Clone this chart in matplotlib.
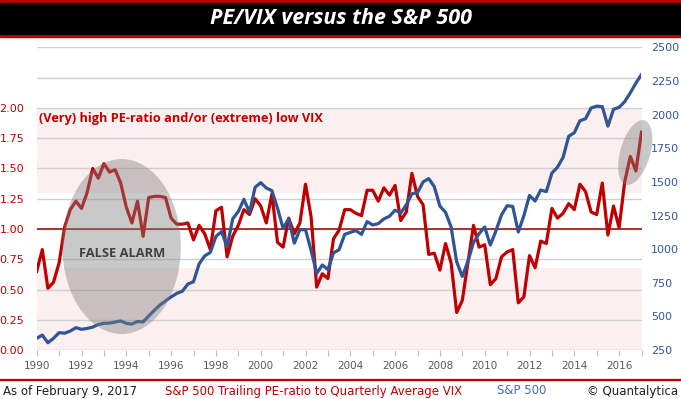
import numpy as np
import matplotlib
matplotlib.use("Agg")
import matplotlib.pyplot as plt
from matplotlib.patches import Ellipse, Rectangle
import matplotlib.transforms as mtransforms

# ---------------- data ----------------
start_year = 1990
pe_vix = [0.65, 0.83, 0.51, 0.56, 0.72, 1.02, 1.16, 1.23, 1.17, 1.30,
          1.50, 1.42, 1.54, 1.47, 1.49, 1.38, 1.18, 1.05, 1.23, 0.94,
          1.26, 1.27, 1.27, 1.26, 1.09, 1.04, 1.04, 1.05, 0.91, 1.03,
          0.96, 0.83, 1.15, 1.18, 0.77, 0.94, 1.03, 1.16, 1.12, 1.25,
          1.19, 1.05, 1.29, 0.89, 0.85, 1.09, 0.96, 1.05, 1.37, 1.10,
          0.52, 0.63, 0.59, 0.92, 0.99, 1.16, 1.16, 1.13, 1.11, 1.32,
          1.32, 1.23, 1.34, 1.28, 1.36, 1.07, 1.14, 1.46, 1.27, 1.20,
          0.79, 0.80, 0.66, 0.88, 0.72, 0.31, 0.41, 0.72, 1.03, 0.85,
          0.87, 0.54, 0.59, 0.77, 0.81, 0.83, 0.39, 0.44, 0.78, 0.68,
          0.90, 0.88, 1.17, 1.09, 1.13, 1.21, 1.16, 1.37, 1.31, 1.14,
          1.12, 1.38, 0.95, 1.19, 1.01, 1.39, 1.60, 1.48, 1.80]
sp500 = [337, 361, 304, 337, 379, 375, 391, 416, 404, 410,
         420, 440, 448, 450, 458, 466, 448, 443, 462, 459,
         503, 545, 584, 615, 645, 671, 687, 741, 758, 890,
         950, 975, 1095, 1130, 1018, 1225, 1280, 1371, 1275, 1460,
         1495, 1455, 1435, 1305, 1155, 1225, 1044, 1145, 1145, 990,
         820, 882, 848, 972, 996, 1110, 1125, 1138, 1110, 1205,
         1180, 1190, 1225, 1245, 1290, 1268, 1330, 1412, 1420, 1500,
         1525, 1465, 1320, 1275, 1165, 905, 797, 910, 1050, 1115,
         1165, 1031, 1135, 1255, 1323, 1318, 1128, 1250, 1400, 1358,
         1440, 1428, 1566, 1610, 1683, 1840, 1866, 1955, 1970, 2050,
         2064, 2060, 1915, 2040, 2055, 2097, 2163, 2235, 2300]
quarters = [start_year + q / 4 for q in range(len(pe_vix))]

left_ticks = [0.00, 0.25, 0.50, 0.75, 1.00, 1.25, 1.50, 1.75, 2.00, 2.25, 2.50]
left_labels = ["0.00", "0.25", "0.50", "0.75", "1.00", "1.25", "1.50", "1.75", "2.00", "", ""]
right_ticks = [250, 500, 750, 1000, 1250, 1500, 1750, 2000, 2250, 2500]
year_labels = list(range(1990, 2017, 2))
high_band = (1.30, 2.00)
low_band = (0.00, 0.68)

RED = "#c00000"
BLUE = "#2f5597"
PINK = "#fcefef"

W, H = 681, 399
fig = plt.figure(figsize=(W / 100, H / 100), dpi=100)
fig.patch.set_facecolor("white")

# title bar
fig.patches.append(Rectangle((0, 1 - 37 / H), 1, 37 / H, transform=fig.transFigure,
                             color=RED, zorder=0))
fig.patches.append(Rectangle((0, 1 - 34 / H), 1, 31 / H, transform=fig.transFigure,
                             color="black", zorder=1))
fig.text(0.5, 1 - 18.5 / H, "PE/VIX versus the S&P 500", color="white",
         fontsize=15.5, fontweight="bold", style="italic", family="Open Sans",
         ha="center", va="center")

x0, x1, ytop, ybot = 36.7, 641.5, 47.5, 350
ax = fig.add_axes([x0 / W, 1 - ybot / H, (x1 - x0) / W, (ybot - ytop) / H])
ax.set_xlim(1990, 2017)
ax.set_ylim(0, 2.5)
ax.patch.set_alpha(0)
for s in ax.spines.values():
    s.set_visible(False)

ax.axhspan(*high_band, color=PINK, zorder=0, lw=0)
ax.axhspan(*low_band, color=PINK, zorder=0, lw=0)
for t in left_ticks:
    ax.axhline(t, color="#d0d0d0", lw=1.0, zorder=1)
ax.axhline(1.0, color="#a00000", lw=1.1, zorder=2)

ax.plot(quarters, pe_vix, color=RED, lw=2.3, zorder=3)

ax.set_yticks(left_ticks)
ax.set_yticklabels(left_labels)
ax.tick_params(axis="y", length=0, pad=9, labelcolor=RED, labelsize=8)
ax.set_xticks(list(range(1990, 2018)))
ax.set_xticklabels([str(y) if y in year_labels else "" for y in range(1990, 2018)])
ax.tick_params(axis="x", length=4, width=0.8, color="#bfbfbf", labelcolor="#595959",
               labelsize=7.5, pad=4)

ax2 = ax.twinx()
ax2.set_ylim(250, 2500)
for s in ax2.spines.values():
    s.set_visible(False)
ax2.plot(quarters, sp500, color=BLUE, lw=2.3, zorder=3)
ax2.set_yticks(right_ticks)
ax2.tick_params(axis="y", length=0, pad=7, labelcolor="#34559a", labelsize=8)

# ellipses (on top of the lines, semi transparent)
e1 = Ellipse((1993.79, 0.855), 5.29, 1.446, transform=ax.transData,
             facecolor="#808080", alpha=0.42, lw=0, zorder=5)
ax2.add_patch(e1)
trans = fig.dpi_scale_trans + mtransforms.ScaledTranslation(2016.72, 1.632, ax.transData)
e2 = Ellipse((0, 0), 0.30, 0.67, angle=-16, transform=trans,
             facecolor="#808080", alpha=0.42, lw=0, zorder=5, clip_on=False)
ax2.add_patch(e2)

ax2.text(1993.8, 0.80, "FALSE ALARM", transform=ax.transData, color="#404040",
         fontsize=9.3, fontweight="bold", family="Open Sans", ha="center", va="center",
         zorder=6)
ax2.text(1990.1, 1.91, "(Very) high PE-ratio and/or (extreme) low VIX", transform=ax.transData,
         color=RED, fontsize=9.2, fontweight="bold", family="Open Sans", ha="left",
         va="center", zorder=6)

# footer
fig.lines.append(plt.Line2D([0, 1], [1 - 380 / H, 1 - 380 / H], transform=fig.transFigure,
                            color=RED, lw=1.6))
fy = 1 - 391 / H
fig.text(3 / W, fy, "As of February 9, 2017", color="#202020", fontsize=8.5,
         ha="left", va="center")
fig.text(165 / W, fy, "S&P 500 Trailing PE-ratio to Quarterly Average VIX", color=RED,
         fontsize=8.5, ha="left", va="center")
fig.text(497 / W, fy, "S&P 500", color="#4a6bb0", fontsize=8.5, ha="left", va="center")
fig.text(678 / W, fy, "© Quantalytica", color="#202020", fontsize=8.5,
         ha="right", va="center")

fig.savefig("out.png", dpi=100)
